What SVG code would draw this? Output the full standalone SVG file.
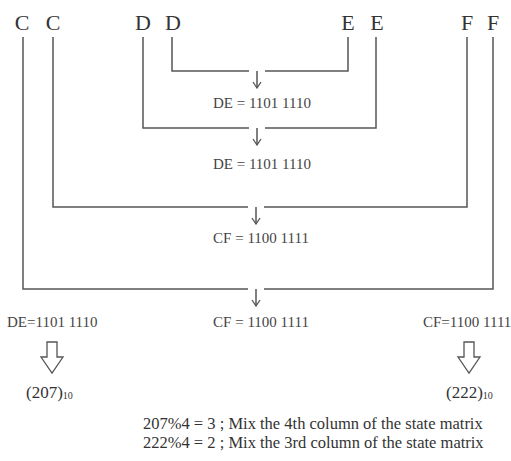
<svg xmlns="http://www.w3.org/2000/svg" width="511" height="461" viewBox="0 0 511 461">
<style>
  text { font-family: 'Liberation Serif', 'Times New Roman', 'DejaVu Serif', serif; }
  .letter { font-size: 22px; fill: #333; text-anchor: middle; }
  .lbl { font-size: 15px; fill: #444; }
  .mid { text-anchor: middle; }
  .dec { font-size: 17px; fill: #333; }
  .sub { font-size: 10px; }
  .note { font-size: 16.5px; fill: #333; }
  .wire { fill: none; stroke: #555; stroke-width: 1.5; }
  .hollow { fill: #fff; stroke: #555; stroke-width: 1.3; stroke-linejoin: miter; }
</style>
<defs>
  <marker id="v" markerWidth="8" markerHeight="10" viewBox="0 0 8 10" refX="7" refY="5" orient="auto" markerUnits="userSpaceOnUse">
    <path d="M1,1 L7,5 L1,9" fill="none" stroke="#555" stroke-width="1.3"/>
  </marker>
</defs>
<rect width="511" height="461" fill="#fff"/>

<g id="C1"><text class="letter" x="22" y="30">C</text></g>
<g id="C2"><text class="letter" x="53" y="30">C</text></g>
<g id="D1"><text class="letter" x="143" y="30">D</text></g>
<g id="D2"><text class="letter" x="173" y="30">D</text></g>
<g id="E1"><text class="letter" x="348" y="30">E</text></g>
<g id="E2"><text class="letter" x="377" y="30">E</text></g>
<g id="F1"><text class="letter" x="467" y="30">F</text></g>
<g id="F2"><text class="letter" x="493" y="30">F</text></g>

<g id="connectors">
  <path class="wire" d="M172,37 V71 H249 M265,71 H348 V37"/>
  <path class="wire" d="M257,71 V88" marker-end="url(#v)"/>
  <path class="wire" d="M143,37 V128 H249 M265,128 H376 V37"/>
  <path class="wire" d="M257,128 V145" marker-end="url(#v)"/>
  <path class="wire" d="M53,37 V207 H248 M264,207 H467 V37"/>
  <path class="wire" d="M256,207 V224" marker-end="url(#v)"/>
  <path class="wire" d="M23,37 V289 H248 M264,289 H493 V37"/>
  <path class="wire" d="M256,289 V306" marker-end="url(#v)"/>
  <polygon class="hollow" points="47,342 57,342 57,357 63,357 52,373 41,357 47,357"/>
  <polygon class="hollow" points="464,342 474,342 474,357 480,357 469,373 458,357 464,357"/>
</g>

<g id="DE1"><text class="lbl mid" x="262" y="108">DE = 1101 1110</text></g>
<g id="DE2"><text class="lbl mid" x="262" y="169">DE = 1101 1110</text></g>
<g id="CF1"><text class="lbl mid" x="261" y="243">CF = 1100 1111</text></g>
<g id="CF2"><text class="lbl mid" x="261" y="327">CF = 1100 1111</text></g>
<g id="DEout"><text class="lbl" x="7" y="327">DE=1101 1110</text></g>
<g id="CFout"><text class="lbl" x="423" y="327">CF=1100 1111</text></g>

<g id="dec207"><text class="dec" x="26" y="398">(207)<tspan class="sub" dy="1">10</tspan></text></g>
<g id="dec222"><text class="dec" x="446" y="398">(222)<tspan class="sub" dy="1">10</tspan></text></g>

<g id="notes">
  <text class="note" x="143" y="429">207%4 = 3 ;  Mix the 4th column of the state matrix</text>
  <text class="note" x="143" y="448">222%4 = 2 ;  Mix the 3rd column of the state matrix</text>
</g>
</svg>
